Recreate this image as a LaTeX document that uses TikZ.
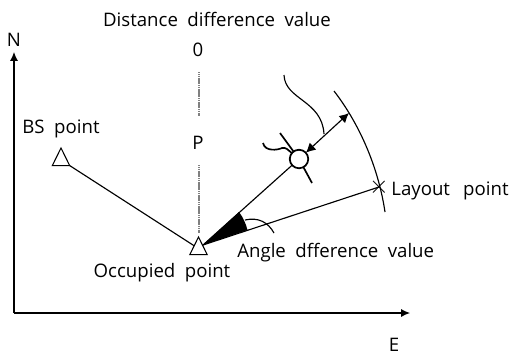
\documentclass[tikz,border=0pt]{standalone}
\usepackage{fontspec}
\setmainfont{Open Sans}
\usetikzlibrary{arrows.meta, positioning, shapes.geometric}
\tikzset{%
   station/.style={
      regular polygon,
      regular polygon sides=3,
      inner sep=0pt,
      outer sep=0pt,
      minimum size=.4cm,
      yscale=1.17,
      line width=.6pt,
      draw
   },
   lbl/.style={inner sep=0pt, font=\fontsize{10.6}{12}\selectfont},
   prism/.style={
      circle,
      draw,
      fill=white,
      inner sep=0pt,
      outer sep=0pt,
      line width=1pt,
      minimum size=.37cm
   },
   wire/.style={line width=.65pt},
   thickwire/.style={line width=.95pt},
   dotline/.style={line width=.7pt, gray, dash pattern=on .8pt off .25pt},
   tip/.style={-{Latex[length=5pt, width=4.5pt]}},
}
\begin{document}
\begin{tikzpicture}[x=.02cm, y=-.02cm]
   \useasboundingbox (0,0) rectangle (514,356);
   % axes
   \coordinate (O) at (14,313);
   \coordinate (Ntip) at (14,52);
   \coordinate (Etip) at (410,313);
   \draw[wire, tip] (O) -- (Ntip);
   \draw[wire, tip] (O) -- (Etip);
   \node[lbl] (N) at (14,40) {N};
   \node[lbl] (E) at (394,344.5) {E};
   % stations
   \node[station] (BS) at (61,159.7) {};
   \node[station] (OP) at (198.5,248.7) {};
   \node[lbl] (BSlabel) at (61,129) {BS\hspace{.25em} point};
   \node[lbl] (OPlabel) at (162,273) {Occupied\hspace{.25em} point};
   \draw[wire] (BS.corner 3) -- (OP.side 1);
   % center line
   \node[lbl] (Title) at (217,19) {Distance\hspace{.25em} difference\hspace{.25em} value};
   \node[lbl] (Zero) at (198,50) {0};
   \node[lbl] (P) at (198,143) {P};
   \coordinate (Z0) at (199,72);
   \coordinate (Z1) at (199,116);
   \coordinate (P0) at (199,165);
   \coordinate (P1) at (199,233);
   \draw[dotline] (Z0) -- (Z1);
   \draw[dotline] (P0) -- (P1);
   % sight lines
   \coordinate (Apex) at (203,245);
   \node[prism] (Prism) at (299,159) {};
   \node[inner sep=0pt, font=\Large] (Layout) at (379,187) {$\times$};
   \draw[wire] (Apex) -- (Prism);
   \draw[wire] (Apex) -- (Layout.center);
   \fill (Apex) -- (239,212) .. controls (243,217) and (246,224) .. (247.5,230) -- cycle;
   \draw[wire] (245,220) .. controls (258,217) and (268,222) .. (274,233);
   % prism marks
   \coordinate (PrismA) at (280,133);
   \coordinate (PrismB) at (312,183);
   \draw[thickwire] (PrismA) -- (Prism);
   \draw[thickwire] (Prism) -- (PrismB);
   \draw[thickwire] (263,143) .. controls (265,152) and (278,150) .. (282,148) .. controls (286,147) and (288,150) .. (Prism);
   % layout arc
   \coordinate (ArcA) at (334,91);
   \coordinate (ArcB) at (385,212);
   \draw[wire] (ArcA) .. controls (358,122) and (378,165) .. (ArcB);
   \coordinate (DistEnd) at (349,113);
   \draw[wire, {Latex[length=5.5pt, width=5.5pt]}-{Latex[length=5.5pt, width=5.5pt]}] (Prism) -- (DistEnd);
   \draw[wire] (284,75) .. controls (285,100) and (322,100) .. (324,134);
   \node[lbl, anchor=west] (LPlabel) at (391,191) {Layout\hspace{.45em} point};
   \node[lbl, anchor=west] (ADlabel) at (237,253) {Angle\hspace{.25em} dfference\hspace{.25em} value};
\end{tikzpicture}
\end{document}
